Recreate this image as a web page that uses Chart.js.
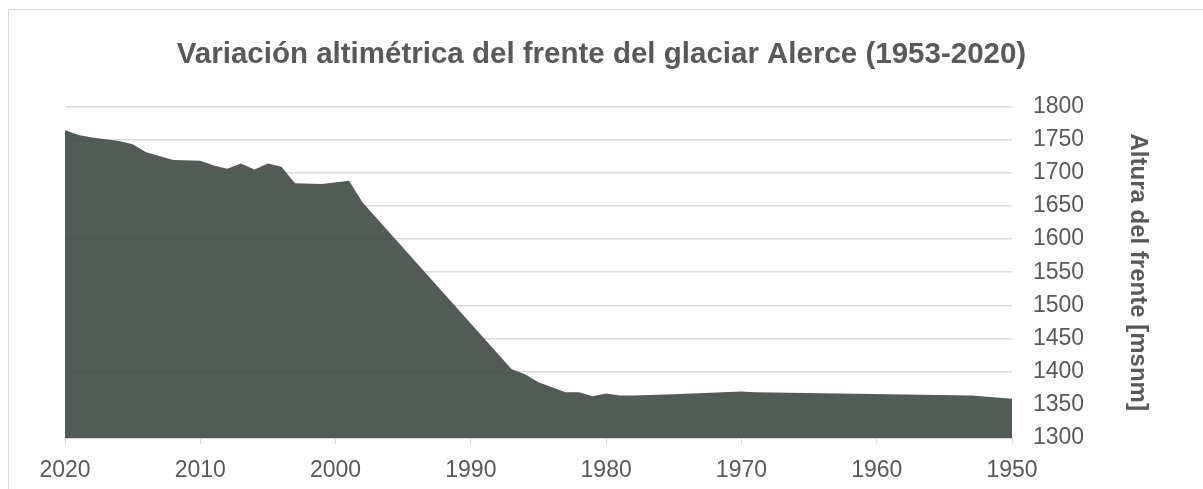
<!DOCTYPE html>
<html>
<head>
<meta charset="utf-8">
<script src="https://cdn.jsdelivr.net/npm/chart.js@4.4.1/dist/chart.umd.min.js"></script>
<style>
  html, body { margin: 0; padding: 0; background: #fff; overflow: hidden; }
  #frame { position: absolute; left: 8px; top: 9px; width: 1400px; height: 700px; border: 1px solid #d9d9d9; }
  #wrap { position: absolute; left: 0; top: 0; width: 1203px; height: 489px; }
</style>
</head>
<body>
<div id="frame"></div>
<div id="wrap"><canvas id="chart" width="1203" height="489"></canvas></div>
<script>
// años y altura del frente (msnm)
const years = [2020, 2019, 2018, 2016, 2015, 2014, 2012, 2010, 2009, 2008, 2007, 2006, 2005, 2004, 2003,
               2001, 1999, 1998, 1987, 1986, 1985, 1983, 1982, 1981, 1980, 1979, 1978, 1975, 1970, 1969,
               1953, 1950];
const heights = [1764, 1757, 1753, 1748, 1743, 1731, 1719, 1718, 1711, 1706, 1714, 1705, 1714, 1709, 1684,
                 1683, 1688, 1655, 1404, 1396, 1384, 1369, 1369, 1363, 1367, 1364, 1364, 1366, 1370, 1369,
                 1364, 1359];
const xTicks = [2020, 2010, 2000, 1990, 1980, 1970, 1960, 1950];
const yTicks = [1300, 1350, 1400, 1450, 1500, 1550, 1600, 1650, 1700, 1750, 1800];

const points = years.map((y, i) => ({ x: y, y: heights[i] }));
const textColor = "#595959";
const gridColor = "#d9d9d9";
const fontFamily = "Liberation Sans, Arial, sans-serif";

const ctx = document.getElementById("chart").getContext("2d");
const chart = new Chart(ctx, {
    type: "line",
    data: {
        datasets: [{
            data: points,
            xAxisID: "x",
            yAxisID: "y",
            fill: "start",
            backgroundColor: "rgba(63,73,66,0.9)",
            borderWidth: 0,
            pointRadius: 0,
            tension: 0
        }]
    },
    options: {
        responsive: false,
        animation: false,
        layout: { padding: 0 },
        plugins: {
            legend: { display: false },
            tooltip: { enabled: false },
            title: {
                display: true,
                text: "Variación altimétrica del frente del glaciar Alerce (1953-2020)",
                color: textColor,
                font: { family: fontFamily, size: 29.5, weight: "bold", lineHeight: 1.2 },
                padding: { top: 37, bottom: 34 }
            }
        },
        scales: {
            x: {
                type: "linear",
                reverse: true,
                min: 1950,
                max: 2020,
                afterBuildTicks: s => { s.ticks = xTicks.map(v => ({ value: v })); },
                afterFit: s => { s.height = 51; },
                grid: { drawOnChartArea: false, drawTicks: true, tickLength: 6, color: gridColor },
                border: { color: gridColor, width: 1 },
                ticks: {
                    color: textColor,
                    padding: 13,
                    maxRotation: 0,
                    callback: v => String(v),
                    font: { family: fontFamily, size: 23 }
                }
            },
            y: {
                position: "right",
                min: 1300,
                max: 1800,
                afterBuildTicks: s => { s.ticks = yTicks.map(v => ({ value: v })); },
                afterFit: s => { s.width = 191; },
                grid: { color: gridColor, lineWidth: 1.5, drawTicks: false },
                border: { display: false },
                ticks: {
                    color: textColor,
                    padding: 21,
                    callback: v => String(v),
                    font: { family: fontFamily, size: 23 }
                },
                title: {
                    display: true,
                    text: "Altura del frente [msnm]",
                    color: textColor,
                    font: { family: fontFamily, size: 24, weight: "bold", lineHeight: 1.2 },
                    padding: { top: 51, bottom: 0 }
                }
            },
            // eje vacío a la izquierda, solo para dejar el margen
            spacer: {
                position: "left",
                afterFit: s => { s.width = 65; },
                grid: { display: false },
                border: { display: false },
                ticks: { display: false }
            }
        }
    }
});
</script>
</body>
</html>
